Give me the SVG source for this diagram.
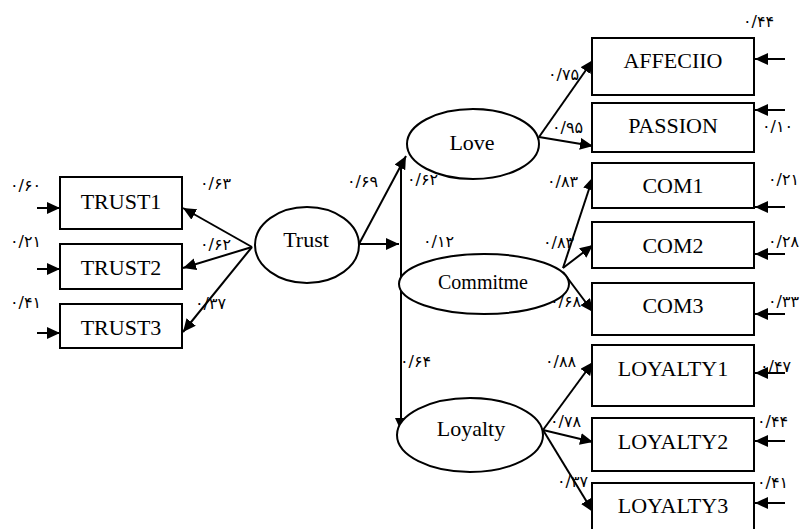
<svg xmlns="http://www.w3.org/2000/svg" width="801" height="529" viewBox="0 0 801 529">
<defs>
<marker id="ah" markerUnits="userSpaceOnUse" markerWidth="14" markerHeight="13" refX="13" refY="6" orient="auto"><path d="M0,0 L13,6 L0,12 z" fill="#000"/></marker>
<style>
.box{fill:#fff;stroke:#000;stroke-width:2}
.ell{fill:#fff;stroke:#000;stroke-width:2}
.t{font-family:"Liberation Serif","Times New Roman",serif;font-size:22px;text-anchor:middle;fill:#000}
.n{font-family:"DejaVu Sans",sans-serif;font-size:16px;fill:#000}
.c line{stroke:#000;stroke-width:2;marker-end:url(#ah)}
</style>
</defs>
<rect width="801" height="529" fill="#fff"/>
<g class="c" id="connectors">
<line x1="37" y1="208" x2="60" y2="208"/>
<line x1="37" y1="269" x2="60" y2="269"/>
<line x1="37" y1="333" x2="60" y2="333"/>
<line x1="252" y1="247" x2="183" y2="208"/>
<line x1="252" y1="247" x2="183" y2="268"/>
<line x1="252" y1="247" x2="183" y2="332"/>
<line x1="359" y1="244" x2="406" y2="156"/>
<line x1="359" y1="244" x2="399" y2="244"/>
<line x1="401" y1="164" x2="401" y2="431"/>
<line x1="539" y1="137" x2="593" y2="60"/>
<line x1="539" y1="137" x2="593" y2="146"/>
<line x1="563" y1="268" x2="593" y2="177"/>
<line x1="563" y1="268" x2="593" y2="245"/>
<line x1="563" y1="272" x2="593" y2="312"/>
<line x1="543" y1="430" x2="593" y2="362"/>
<line x1="543" y1="430" x2="593" y2="442"/>
<line x1="543" y1="430" x2="593" y2="512"/>
<line x1="785" y1="59" x2="755" y2="59"/>
<line x1="785" y1="110" x2="755" y2="110"/>
<line x1="785" y1="207" x2="755" y2="207"/>
<line x1="785" y1="254" x2="755" y2="254"/>
<line x1="785" y1="314" x2="755" y2="314"/>
<line x1="785" y1="373" x2="755" y2="373"/>
<line x1="785" y1="441" x2="755" y2="441"/>
<line x1="785" y1="503" x2="755" y2="503"/>
</g>
<g id="TRUST1"><rect class="box" x="60" y="177" width="122" height="52"/><text class="t" x="121" y="209">TRUST1</text></g>
<g id="TRUST2"><rect class="box" x="60" y="244" width="122" height="45"/><text class="t" x="121" y="275">TRUST2</text></g>
<g id="TRUST3"><rect class="box" x="60" y="304" width="122" height="44"/><text class="t" x="121" y="335">TRUST3</text></g>
<g id="Trust"><ellipse class="ell" cx="307" cy="245" rx="52" ry="38"/><text class="t" x="306" y="247">Trust</text></g>
<g id="Love"><ellipse class="ell" cx="473" cy="144" rx="66" ry="35"/><text class="t" x="472" y="150">Love</text></g>
<g id="Commitme"><ellipse class="ell" cx="484" cy="284" rx="85" ry="30"/><text class="t" x="483" y="289" style="font-size:20px">Commitme</text></g>
<g id="Loyalty"><ellipse class="ell" cx="470" cy="435" rx="73" ry="37"/><text class="t" x="471" y="436">Loyalty</text></g>
<g id="AFFECIIO"><rect class="box" x="592" y="38" width="162" height="57"/><text class="t" x="673" y="68">AFFECIIO</text></g>
<g id="PASSION"><rect class="box" x="592" y="103" width="162" height="49"/><text class="t" x="673" y="133">PASSION</text></g>
<g id="COM1"><rect class="box" x="592" y="163" width="162" height="45"/><text class="t" x="673" y="193">COM1</text></g>
<g id="COM2"><rect class="box" x="592" y="222" width="162" height="46"/><text class="t" x="673" y="253">COM2</text></g>
<g id="COM3"><rect class="box" x="592" y="283" width="162" height="52"/><text class="t" x="673" y="313">COM3</text></g>
<g id="LOYALTY1"><rect class="box" x="592" y="345" width="162" height="61"/><text class="t" x="673" y="376">LOYALTY1</text></g>
<g id="LOYALTY2"><rect class="box" x="592" y="418" width="162" height="53"/><text class="t" x="673" y="449">LOYALTY2</text></g>
<g id="LOYALTY3"><rect class="box" x="592" y="483" width="162" height="50"/><text class="t" x="673" y="513">LOYALTY3</text></g>
<g id="labels">
<text class="n" x="10" y="191">۰/۶۰</text>
<text class="n" x="10" y="247">۰/۲۱</text>
<text class="n" x="10" y="308">۰/۴۱</text>
<text class="n" x="200" y="189">۰/۶۳</text>
<text class="n" x="200" y="250">۰/۶۲</text>
<text class="n" x="195" y="309">۰/۳۷</text>
<text class="n" x="347" y="187">۰/۶۹</text>
<text class="n" x="407" y="185">۰/۶۲</text>
<text class="n" x="423" y="247">۰/۱۲</text>
<text class="n" x="743" y="27">۰/۴۴</text>
<text class="n" x="548" y="80">۰/۷۵</text>
<text class="n" x="552" y="133">۰/۹۵</text>
<text class="n" x="762" y="132">۰/۱۰</text>
<text class="n" x="547" y="187">۰/۸۳</text>
<text class="n" x="543" y="248">۰/۸۳</text>
<text class="n" x="550" y="307">۰/۶۸</text>
<text class="n" x="768" y="185">۰/۲۱</text>
<text class="n" x="768" y="247">۰/۲۸</text>
<text class="n" x="768" y="307">۰/۳۳</text>
<text class="n" x="400" y="367">۰/۶۴</text>
<text class="n" x="545" y="367">۰/۸۸</text>
<text class="n" x="550" y="427">۰/۷۸</text>
<text class="n" x="557" y="487">۰/۳۷</text>
<text class="n" x="760" y="372">۰/۴۷</text>
<text class="n" x="757" y="427">۰/۴۴</text>
<text class="n" x="757" y="488">۰/۴۱</text>
</g>
</svg>
